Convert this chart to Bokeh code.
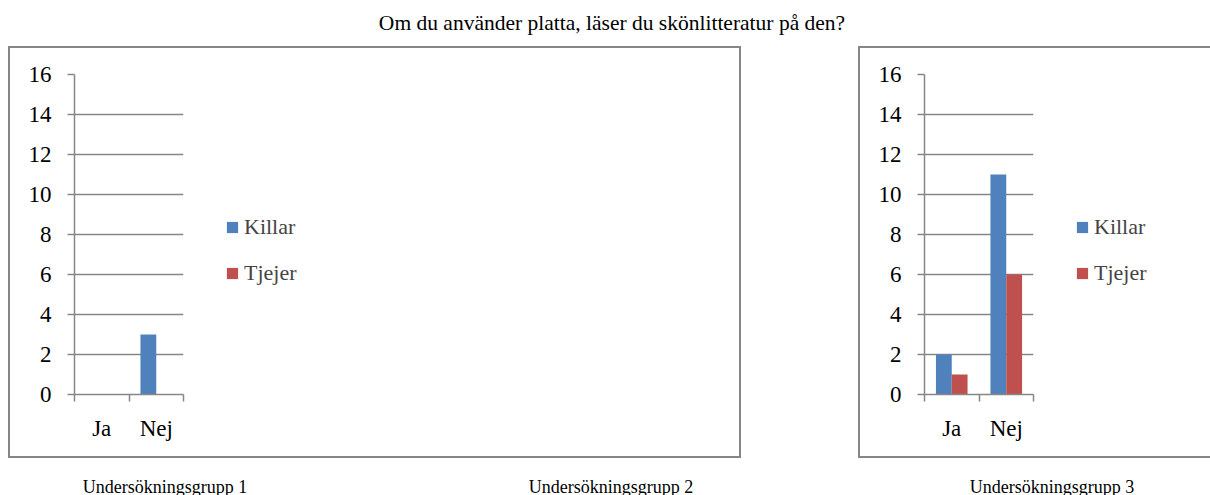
from bokeh.plotting import figure
from bokeh.models import (Range1d, FactorRange, LinearAxis, FixedTicker, Legend,
                          LegendItem, Div, ColumnDataSource)
from bokeh.layouts import column, row
from bokeh.transform import dodge
from bokeh.embed import file_html
from bokeh.resources import INLINE

title_text = "Om du använder platta, läser du skönlitteratur på den?"
categories = ["Ja", "Nej"]
series_names = ["Killar", "Tjejer"]
group_names = ["Undersökningsgrupp 1", "Undersökningsgrupp 2", "Undersökningsgrupp 3"]
killar_g1 = [0, 3]
tjejer_g1 = [0, 0]
killar_g2 = [2, 11]
tjejer_g2 = [1, 6]
killar_g3 = [4, 10]
tjejer_g3 = [2, 3]
y_ticks = [0, 2, 4, 6, 8, 10, 12, 14, 16]

FONT = "Liberation Serif"
GRAY = "#868686"
BLUE = "#4F81BD"
RED = "#C0504D"
PANEL_H = 412


def make_panel(killar, tjejer, canvas_w, left_margin, sides):
    src = ColumnDataSource(dict(cat=categories, killar=killar, tjejer=tjejer))
    shadows = []
    if "l" in sides:
        shadows.append(f"inset 2px 0 0 {GRAY}")
    if "r" in sides:
        shadows.append(f"inset -2px 0 0 {GRAY}")
    if "t" in sides:
        shadows.append(f"inset 0 2px 0 {GRAY}")
    if "b" in sides:
        shadows.append(f"inset 0 -2px 0 {GRAY}")
    p = figure(x_range=FactorRange(*categories), y_range=Range1d(0, max(y_ticks)),
               frame_width=109, frame_height=320,
               min_border_left=66, min_border_right=canvas_w - 66 - 109,
               min_border_top=28, min_border_bottom=PANEL_H - 28 - 320,
               x_axis_location=None, output_backend="svg", toolbar_location=None,
               background_fill_alpha=0, border_fill_alpha=0,
               margin=(0, 0, 0, left_margin),
               styles={"box-shadow": ", ".join(shadows), "background-color": "white"})
    p.outline_line_color = None
    p.xgrid.grid_line_color = None
    p.ygrid.grid_line_color = GRAY
    p.ygrid.grid_line_width = 1.5
    p.ygrid.ticker = FixedTicker(ticks=y_ticks)

    ya = p.yaxis[0]
    ya.ticker = FixedTicker(ticks=y_ticks)
    ya.axis_line_color = GRAY
    ya.axis_line_width = 1.5
    ya.major_tick_line_color = GRAY
    ya.major_tick_line_width = 1.5
    ya.major_tick_out = 7
    ya.major_tick_in = 0
    ya.minor_tick_line_color = None
    ya.major_label_text_font = FONT
    ya.major_label_text_font_size = "23px"
    ya.major_label_text_color = "black"
    ya.major_label_standoff = 16

    # category axis: labels at category centres, tick marks at category boundaries
    xa = LinearAxis(ticker=FixedTicker(ticks=[i + 0.5 for i in range(len(categories))],
                                       minor_ticks=list(range(len(categories) + 1))))
    xa.major_label_overrides = {i + 0.5: c for i, c in enumerate(categories)}
    xa.axis_line_color = GRAY
    xa.axis_line_width = 1.5
    xa.major_tick_line_color = None
    xa.major_tick_out = 0
    xa.major_tick_in = 0
    xa.minor_tick_line_color = GRAY
    xa.minor_tick_line_width = 1.5
    xa.minor_tick_out = 7
    xa.minor_tick_in = 0
    xa.major_label_text_font = FONT
    xa.major_label_text_font_size = "23px"
    xa.major_label_text_color = "black"
    xa.major_label_standoff = 14
    p.add_layout(xa, "below")

    r1 = p.vbar(x=dodge("cat", -0.145, range=p.x_range), top="killar", width=0.29,
                source=src, fill_color=BLUE, line_color=None)
    r2 = p.vbar(x=dodge("cat", 0.145, range=p.x_range), top="tjejer", width=0.29,
                source=src, fill_color=RED, line_color=None)

    legend = Legend(items=[LegendItem(label=series_names[0], renderers=[r1]),
                           LegendItem(label=series_names[1], renderers=[r2])],
                    location=(42, 108), padding=0, margin=0, spacing=20,
                    glyph_width=14, glyph_height=14, label_height=14, label_standoff=5,
                    label_text_font=FONT, label_text_font_size="22px",
                    border_line_color=None, background_fill_alpha=0)
    p.add_layout(legend, "right")
    return p


p1 = make_panel(killar_g1, tjejer_g1, 324, 8, "lrtb")
p2 = make_panel(killar_g2, tjejer_g2, 324, 117, "lrtb")
p3 = make_panel(killar_g3, tjejer_g3, 320, 117, "ltb")

cap_style = {"text-align": "center", "font-family": FONT, "font-size": "18px",
             "padding-top": "17px", "box-sizing": "border-box", "color": "black"}
c1 = Div(text=group_names[0], width=324, height=37, margin=(0, 0, 0, 8),
         styles=dict(cap_style, **{"padding-right": "10px"}))
c2 = Div(text=group_names[1], width=324, height=37, margin=(0, 0, 0, 117), styles=cap_style)
c3 = Div(text=group_names[2], width=320, height=37, margin=(0, 0, 0, 117),
         styles=dict(cap_style, **{"padding-left": "4px"}))

title = Div(text=title_text, width=1210, height=46, margin=0,
            styles={"text-align": "center", "font-family": FONT, "font-size": "21.5px",
                    "padding-top": "8px", "padding-left": "14px", "box-sizing": "border-box",
                    "color": "black"})

layout = column(title, row(p1, p2, p3), row(c1, c2, c3))
open("out.html", "w").write(file_html(layout, INLINE))
